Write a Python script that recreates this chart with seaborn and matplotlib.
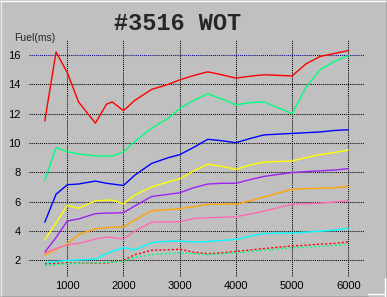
import matplotlib
matplotlib.use("Agg")
import matplotlib.pyplot as plt
import seaborn as sns
import pandas as pd
from matplotlib.lines import Line2D

rpm = [600, 800, 1000, 1200, 1500, 1700, 1800, 2000, 2200, 2500, 2800, 3000,
       3250, 3500, 3750, 4000, 4250, 4500, 5000, 5250, 5500, 5750, 6000]

red_top = [11.5, 16.2, 14.8, 12.8, 11.35, 12.65, 12.8, 12.2, 12.9, 13.65, 14.0, 14.3,
           14.6, 14.85, 14.65, 14.42, 14.55, 14.65, 14.57, 15.4, 15.9, 16.1, 16.3]
mint = [7.45, 9.7, 9.4, 9.25, 9.12, 9.1, 9.1, 9.4, 10.1, 11.0, 11.7, 12.35,
        12.9, 13.35, 13.0, 12.6, 12.75, 12.8, 12.0, 13.8, 15.0, 15.55, 15.95]
blue = [4.6, 6.5, 7.15, 7.2, 7.4, 7.25, 7.2, 7.1, 7.8, 8.6, 9.0, 9.2,
        9.7, 10.25, 10.15, 10.02, 10.3, 10.55, 10.65, 10.7, 10.75, 10.85, 10.9]
yellow = [3.4, 4.55, 5.75, 5.55, 6.05, 6.1, 6.1, 5.85, 6.45, 7.0, 7.35, 7.55,
          8.1, 8.55, 8.4, 8.2, 8.5, 8.7, 8.77, 9.0, 9.2, 9.35, 9.52]
purple = [2.55, 3.55, 4.68, 4.82, 5.18, 5.22, 5.22, 5.25, 5.7, 6.35, 6.5, 6.6,
          6.95, 7.2, 7.25, 7.25, 7.5, 7.72, 7.98, 8.05, 8.1, 8.15, 8.25]
orange = [2.35, 2.75, 3.1, 3.75, 4.15, 4.22, 4.25, 4.28, 4.75, 5.38, 5.45, 5.52,
          5.65, 5.82, 5.82, 5.82, 6.05, 6.32, 6.84, 6.88, 6.92, 6.95, 7.02]
pink = [2.5, 2.8, 3.05, 3.15, 3.45, 3.58, 3.55, 3.45, 3.98, 4.6, 4.62, 4.63,
        4.85, 4.9, 4.93, 4.97, 5.15, 5.35, 5.82, 5.85, 5.9, 5.97, 6.05]
cyan = [1.82, 1.9, 2.0, 2.02, 2.08, 2.45, 2.6, 2.86, 2.72, 3.2, 3.3, 3.3,
        3.25, 3.28, 3.35, 3.42, 3.65, 3.83, 3.86, 3.92, 3.98, 4.05, 4.16]
red_low = [1.75, 1.78, 1.82, 1.8, 1.8, 1.8, 1.88, 2.0, 2.38, 2.68, 2.72, 2.75,
           2.55, 2.45, 2.5, 2.6, 2.7, 2.8, 2.98, 3.03, 3.1, 3.15, 3.25]
green_low = [1.66, 1.7, 1.77, 1.8, 1.82, 1.85, 1.88, 1.93, 2.2, 2.38, 2.45, 2.5,
             2.45, 2.38, 2.45, 2.52, 2.6, 2.68, 2.86, 2.9, 2.95, 3.0, 3.09]

series = [
    ("red_top", red_top, "#ff0000", "-"),
    ("mint", mint, "#00ff80", "-"),
    ("blue", blue, "#0000ff", "-"),
    ("yellow", yellow, "#ffff00", "-"),
    ("purple", purple, "#a020f0", "-"),
    ("orange", orange, "#ffa500", "-"),
    ("pink", pink, "#ff69b4", "-"),
    ("cyan", cyan, "#00ffff", "-"),
    ("red_low", red_low, "#ff0000", (0, (1.5, 1.5))),
    ("green_low", green_low, "#00ff80", (0, (1.5, 1.5))),
]

x_ticks = [1000, 2000, 3000, 4000, 5000, 6000]
y_ticks = [2, 4, 6, 8, 10, 12, 14, 16]

sns.set_style("white")
plt.rcParams['font.family'] = ['Liberation Sans', 'DejaVu Sans']

bg = "#c0c0c0"
fig = plt.figure(figsize=(3.87, 2.97), dpi=100, facecolor=bg)
ax = fig.add_axes([29/387, 20/297, 335/387, 237/297])
ax.set_facecolor(bg)

for name, vals, col, ls in series:
    df = pd.DataFrame({"rpm": rpm, "fuel": vals})
    sns.lineplot(data=df, x="rpm", y="fuel", color=col, linestyle=ls,
                 linewidth=1.0, ax=ax, legend=False, zorder=3)

ax.set_xlim(319, 6279)
ax.set_ylim(0.86, 17.02)
ax.set_xticks(x_ticks)
ax.set_yticks(y_ticks)
ax.set_xticklabels([str(t) for t in x_ticks])
ax.set_yticklabels([str(t) for t in y_ticks])
ax.tick_params(length=0, labelsize=8, colors="black")
ax.tick_params(axis="y", pad=6)
ax.tick_params(axis="x", pad=3)
ax.set_xlabel("")
ax.set_ylabel("")
for s in ax.spines.values():
    s.set_visible(False)
ax.grid(True, color="black", linestyle=(0, (1, 1)), linewidth=0.75, zorder=1)
ax.set_axisbelow(True)
for gl, t in zip(ax.get_ygridlines(), y_ticks):
    if t == 16:
        gl.set_color("#000080")

fig.text(14/387, 1 - 38/297, "Fuel(ms)", fontsize=7.5, ha="left", va="center")
fig.text(177.5/387, 1 - 23/297, "#3516 WOT", fontsize=17, fontweight="bold",
         family=["Liberation Mono", "DejaVu Sans Mono"], ha="center", va="center")

# window frame
W, H = 387, 297
def fl(x0, y0, x1, y1, c, lw=1):
    fig.add_artist(Line2D([x0/W, x1/W], [1 - y0/H, 1 - y1/H], color=c,
                          linewidth=lw, transform=fig.transFigure))
fl(0, 0.5, W, 0.5, "white")
fl(0.5, 0, 0.5, H, "#e8e8e8")
fl(W - 0.5, 0, W - 0.5, 278, "#404040")
fl(0, H - 0.5, 368, H - 0.5, "#404040")
fl(384.5, 278, 384.5, H, "white")
fl(368, 293.5, 385, 293.5, "white")

fig.savefig("out.png", dpi=100, facecolor=bg)
